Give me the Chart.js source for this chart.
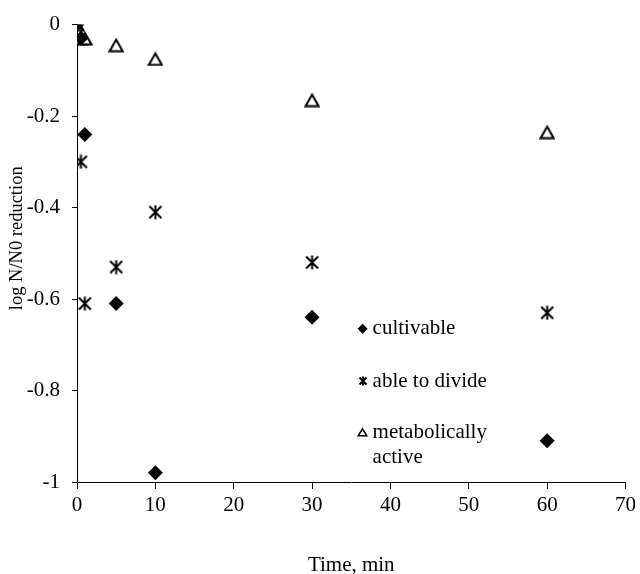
<!DOCTYPE html>
<html>
<head>
<meta charset="utf-8">
<script src="https://cdn.jsdelivr.net/npm/chart.js@4/dist/chart.umd.min.js"></script>
<style>
  html, body { margin: 0; padding: 0; background: #fff; }
  #wrap { width: 640px; height: 574px; position: relative; }
</style>
</head>
<body>
<div id="wrap"><canvas id="c"></canvas></div>
<script>
// ---- data ----
const seriesNames = ['cultivable', 'able to divide', 'metabolically active'];
const cultivableX = [0, 0.5, 1, 5, 10, 30, 60];
const cultivableY = [0, -0.03, -0.24, -0.61, -0.98, -0.64, -0.91];
const divideX = [0, 0.5, 1, 5, 10, 30, 60];
const divideY = [0, -0.30, -0.61, -0.53, -0.41, -0.52, -0.63];
const activeX = [0, 0.5, 1, 5, 10, 30, 60];
const activeY = [0, -0.03, -0.03, -0.045, -0.075, -0.165, -0.235];
const xTicks = [0, 10, 20, 30, 40, 50, 60, 70];
const yTicks = [0, -0.2, -0.4, -0.6, -0.8, -1];
const xTitle = 'Time, min';
const yTitle = 'log N/N0 reduction';

const FONT = "'Liberation Serif', 'Times New Roman', serif";

function toPts(xs, ys) { return xs.map((x, i) => ({x: x, y: ys[i]})); }

function makeAsterisk(size, lw) {
  const c = document.createElement('canvas');
  c.width = size; c.height = size;
  const g = c.getContext('2d');
  g.strokeStyle = '#000'; g.lineWidth = lw; g.lineCap = 'butt';
  const m = lw / 2 + 0.5, s = size;
  g.beginPath();
  g.moveTo(m, m); g.lineTo(s - m, s - m);
  g.moveTo(s - m, m); g.lineTo(m, s - m);
  g.moveTo(s / 2, 0.5); g.lineTo(s / 2, s - 0.5);
  g.stroke();
  return c;
}
function makeTriangle(w, h, lw) {
  const c = document.createElement('canvas');
  c.width = w; c.height = h;
  const g = c.getContext('2d');
  g.fillStyle = '#fff'; g.strokeStyle = '#000'; g.lineWidth = lw; g.lineJoin = 'miter';
  const m = lw / 2 + 0.5;
  g.beginPath();
  g.moveTo(w / 2, m + 0.5); g.lineTo(w - m, h - m); g.lineTo(m, h - m); g.closePath();
  g.fill(); g.stroke();
  return c;
}
const asteriskBig = makeAsterisk(15, 2);
const asteriskSmall = makeAsterisk(10, 2);
const triangleBig = makeTriangle(16, 15, 2);
const triangleSmall = makeTriangle(11, 10, 1.6);

const legendPlugin = {
  id: 'sideLegend',
  afterDraw(chart) {
    const ctx = chart.ctx;
    const xs = chart.scales.x, ys = chart.scales.y;
    const mx = xs.getPixelForValue(36.45);
    const tx = mx + 10;
    const rows = [ys.getPixelForValue(-0.665), ys.getPixelForValue(-0.78), ys.getPixelForValue(-0.891), ys.getPixelForValue(-0.946)];
    ctx.save();
    ctx.font = '21px ' + FONT;
    ctx.fillStyle = '#000';
    ctx.textBaseline = 'middle';
    ctx.textAlign = 'left';
    // cultivable
    ctx.beginPath();
    ctx.moveTo(mx, rows[0] - 5); ctx.lineTo(mx + 5, rows[0]); ctx.lineTo(mx, rows[0] + 5); ctx.lineTo(mx - 5, rows[0]); ctx.closePath(); ctx.fill();
    ctx.fillText(seriesNames[0], tx, rows[0]);
    // able to divide
    ctx.drawImage(asteriskSmall, Math.round(mx - 5), Math.round(rows[1] - 5));
    ctx.fillText(seriesNames[1], tx, rows[1]);
    // metabolically active
    ctx.drawImage(triangleSmall, Math.round(mx - 5.5), Math.round(rows[2] - 5));
    const words = seriesNames[2].split(' ');
    ctx.fillText(words[0], tx, rows[2]);
    ctx.fillText(words[1], tx, rows[3]);
    // y axis title, slightly above the plot centre as in the source
    ctx.translate(17, (chart.chartArea.top + chart.chartArea.bottom) / 2 - 15);
    ctx.rotate(-Math.PI / 2);
    ctx.textAlign = 'center';
    ctx.font = '18.5px ' + FONT;
    ctx.fillText(yTitle, 0, 0);
    ctx.restore();
  }
};

const data = {
  datasets: [
    { label: seriesNames[0], data: toPts(cultivableX, cultivableY), pointStyle: 'rectRot', pointRadius: 7.5, pointHoverRadius: 7.5,
      backgroundColor: '#000', borderColor: '#000', borderWidth: 0, showLine: false },
    { label: seriesNames[1], data: toPts(divideX, divideY), pointStyle: asteriskBig, pointRadius: 7,
      backgroundColor: '#000', borderColor: '#000', showLine: false },
    { label: seriesNames[2], data: toPts(activeX, activeY), pointStyle: triangleBig, pointRadius: 8,
      backgroundColor: '#fff', borderColor: '#000', showLine: false }
  ]
};

new Chart(document.getElementById('c'), {
  type: 'scatter',
  data: data,
  plugins: [legendPlugin],
  options: {
    responsive: true,
    maintainAspectRatio: false,
    animation: false,
    layout: { padding: { top: 23, right: 12, left: 0, bottom: 0 } },
    plugins: { legend: { display: false }, tooltip: { enabled: false } },
    scales: {
      x: {
        type: 'linear', min: 0, max: 70,
        afterBuildTicks(s) { s.ticks = xTicks.map(v => ({value: v})); },
        afterFit(s) { s.height = 92; },
        border: { display: true, color: '#000', width: 1 },
        grid: { display: true, drawOnChartArea: false, drawTicks: true, tickLength: 7, color: '#000' },
        ticks: { color: '#000', font: { family: FONT, size: 21 }, padding: 4, maxRotation: 0 },
        title: { display: true, text: xTitle, color: '#000', font: { family: FONT, size: 21, lineHeight: 1 }, padding: { top: 0, bottom: -2 } }
      },
      y: {
        type: 'linear', min: -1, max: 0,
        afterBuildTicks(s) { s.ticks = yTicks.map(v => ({value: v})); },
        afterFit(s) { s.width = 77; },
        border: { display: true, color: '#000', width: 1 },
        grid: { display: true, drawOnChartArea: false, drawTicks: true, tickLength: 5, color: '#000' },
        ticks: { color: '#000', font: { family: FONT, size: 21 }, padding: 12, callback: v => String(v) },
        title: { display: false, text: yTitle }
      }
    }
  }
});
</script>
</body>
</html>
